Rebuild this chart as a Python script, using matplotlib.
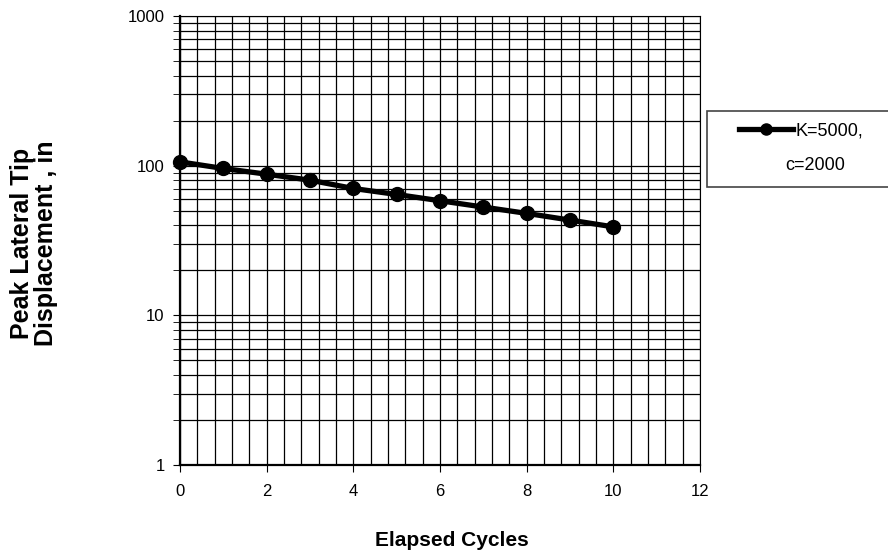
import matplotlib
matplotlib.use("Agg")
import matplotlib.pyplot as plt
from matplotlib.patches import Rectangle
from matplotlib.ticker import MultipleLocator, LogLocator, NullFormatter

plt.rcParams['font.family'] = ['Liberation Sans', 'DejaVu Sans']

cycles = [0, 1, 2, 3, 4, 5, 6, 7, 8, 9, 10]
peak_disp = [106, 95.8, 87.7, 80, 70.4, 64.2, 58.3, 52.9, 48, 43.3, 39]
ytick_vals = [1, 10, 100, 1000]
ytick_labels = ['1', '10', '100', '1000']

fig = plt.figure(figsize=(8.88, 5.56), dpi=100)
ax = fig.add_axes([180/888, 1-465/556, 520/888, 449/556])

ax.set_yscale('log')
ax.set_xlim(0, 12)
ax.set_ylim(1, 1000)
ax.xaxis.set_major_locator(MultipleLocator(2))
ax.xaxis.set_minor_locator(MultipleLocator(0.4))
ax.yaxis.set_minor_locator(LogLocator(base=10, subs=range(2, 10)))
ax.yaxis.set_minor_formatter(NullFormatter())
ax.set_yticks(ytick_vals)
ax.set_yticklabels(ytick_labels)

ax.grid(True, which='both', color='black', linewidth=0.9)
ax.set_axisbelow(True)
ax.tick_params(axis='x', which='major', direction='out', length=5, labelsize=12, pad=9)
ax.tick_params(axis='x', which='minor', direction='in', length=4)
ax.tick_params(axis='y', which='major', direction='out', length=5, labelsize=12, pad=6)
ax.tick_params(axis='y', which='minor', direction='out', length=5)
for s in ax.spines.values():
    s.set_color('black')
ax.spines['left'].set_linewidth(1.6)
ax.spines['bottom'].set_linewidth(1.6)

line, = ax.plot(cycles, peak_disp, '-o', color='black', linewidth=3.8, markersize=10,
                zorder=5, clip_on=False)

fig.text(452/888, 1-540/556, 'Elapsed Cycles', fontsize=15, fontweight='bold',
         ha='center', va='center')
fig.text(34/888, 1-243/556, 'Peak Lateral Tip\nDisplacement , in', rotation=90,
         ha='center', va='center', fontsize=18, fontweight='bold', linespacing=1.0)

# legend box (runs past the right edge as in the original)
fig.patches.append(Rectangle((707/888, 1-187/556), 200/888, 76/556,
                             transform=fig.transFigure, facecolor='white',
                             edgecolor='#444444', linewidth=1.2))
leg_handle = plt.Line2D([], [], color='black', marker='o', linewidth=3.8, markersize=8)
fig.legend([leg_handle], ['K=5000,'], loc='center left',
           bbox_to_anchor=(739/888, 1-131/556), fontsize=13, frameon=False,
           handlelength=3.0, handletextpad=0.15, borderpad=0, borderaxespad=0)
fig.text(785/888, 1-166/556, 'c=2000', fontsize=13, ha='left', va='center')

fig.savefig('out.png', dpi=100)
